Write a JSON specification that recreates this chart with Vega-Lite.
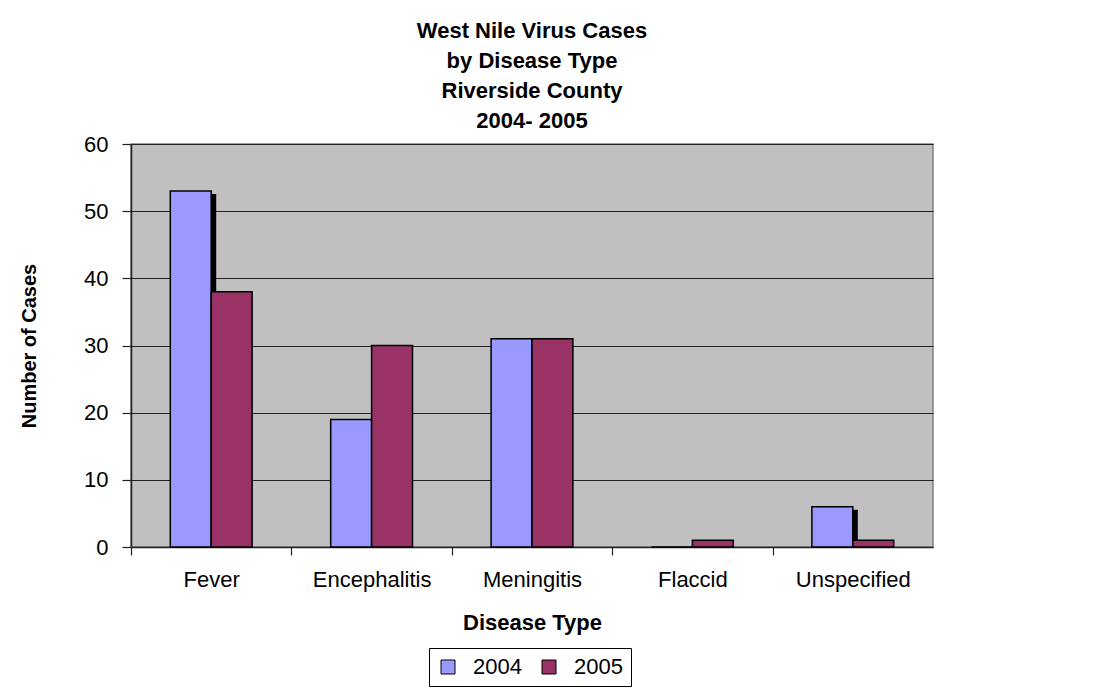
{
  "$schema": "https://vega.github.io/schema/vega-lite/v6.json",
  "autosize": {"type": "none"},
  "width": 802,
  "height": 403,
  "padding": {"left": 131, "top": 144, "right": 168, "bottom": 142},
  "background": "white",
  "title": {
    "text": ["West Nile Virus Cases", "by Disease Type", "Riverside County", "2004- 2005"],
    "font": "Liberation Sans",
    "fontSize": 22,
    "fontWeight": "bold",
    "lineHeight": 30,
    "color": "black",
    "anchor": "middle",
    "frame": "group",
    "offset": 0
  },
  "data": {
    "values": [
      {"type": "Fever", "year": "2004", "cases": 53},
      {"type": "Fever", "year": "2005", "cases": 38},
      {"type": "Encephalitis", "year": "2004", "cases": 19},
      {"type": "Encephalitis", "year": "2005", "cases": 30},
      {"type": "Meningitis", "year": "2004", "cases": 31},
      {"type": "Meningitis", "year": "2005", "cases": 31},
      {"type": "Flaccid", "year": "2004", "cases": 0},
      {"type": "Flaccid", "year": "2005", "cases": 1},
      {"type": "Unspecified", "year": "2004", "cases": 6},
      {"type": "Unspecified", "year": "2005", "cases": 1}
    ]
  },
  "encoding": {
    "x": {
      "field": "type",
      "type": "nominal",
      "sort": ["Fever", "Encephalitis", "Meningitis", "Flaccid", "Unspecified"],
      "scale": {"paddingInner": 0.49, "paddingOuter": 0.245},
      "axis": {
        "title": "Disease Type",
        "labelAngle": 0,
        "tickOffset": -80.2,
        "labelOffset": 80.2,
        "tickSize": 8,
        "labelPadding": 14,
        "titlePadding": 22
      }
    },
    "y": {
      "field": "cases",
      "type": "quantitative",
      "scale": {"domain": [0, 60], "nice": false},
      "axis": {
        "title": "Number of Cases",
        "values": [0, 10, 20, 30, 40, 50, 60],
        "tickSize": 9,
        "labelPadding": 14,
        "titlePadding": 44
      }
    }
  },
  "layer": [
    {
      "transform": [{"filter": "datum.year == '2004' && datum.cases > 0"}],
      "mark": {"type": "bar", "color": "black", "width": 41, "xOffset": -15.5, "yOffset": 3, "y2Offset": -3},
      "encoding": {
        "y": {"field": "cases", "type": "quantitative", "stack": null},
        "y2": {"datum": 0}
      }
    },
    {
      "mark": {"type": "bar", "stroke": "black", "strokeWidth": 1.5},
      "encoding": {
        "xOffset": {"field": "year", "type": "nominal", "scale": {"domain": ["2004", "2005"], "paddingInner": 0, "paddingOuter": 0}},
        "color": {
          "field": "year",
          "type": "nominal",
          "scale": {"domain": ["2004", "2005"], "range": ["#9999FF", "#993366"]},
          "legend": {
            "title": null,
            "orient": "none",
            "legendX": 298,
            "legendY": 504,
            "direction": "horizontal",
            "symbolType": "square",
            "symbolSize": 196,
            "symbolStrokeColor": "black",
            "symbolStrokeWidth": 1,
            "symbolOpacity": 1,
            "labelFontSize": 22,
            "labelFont": "Liberation Sans",
            "labelColor": "black",
            "labelOffset": 14,
            "columnPadding": 16,
            "padding": 8,
            "strokeColor": "black",
            "fillColor": "white"
          }
        }
      }
    }
  ],
  "config": {
    "font": "Liberation Sans",
    "view": {"fill": "#C0C0C0", "stroke": "#808080", "strokeWidth": 1.5},
    "axis": {
      "labelFont": "Liberation Sans",
      "labelFontSize": 22,
      "labelColor": "black",
      "titleFont": "Liberation Sans",
      "titleFontSize": 22,
      "titleFontWeight": "bold",
      "titleColor": "black",
      "domainColor": "#222222",
      "domainWidth": 1.5,
      "tickColor": "#222222",
      "tickWidth": 1.2,
      "gridColor": "#222222",
      "gridWidth": 1.2,
      "gridOpacity": 1
    },
    "axisX": {"grid": false},
    "axisY": {"grid": true, "titleFontSize": 20}
  }
}
